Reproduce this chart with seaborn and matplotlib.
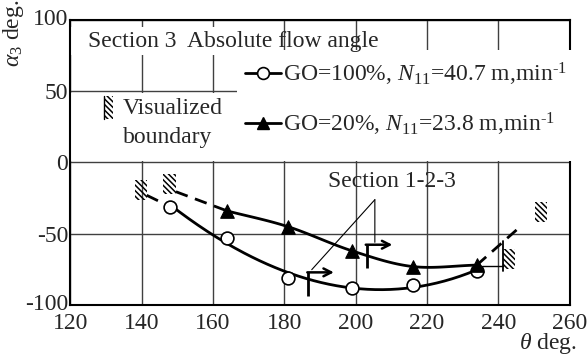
import numpy as np
import pandas as pd
import matplotlib
matplotlib.use("Agg")
import matplotlib.pyplot as plt
import matplotlib.transforms as mtransforms
from matplotlib.lines import Line2D
from matplotlib.patches import Rectangle
import seaborn as sns

# Absolute flow angle at section 3 versus circumferential position
theta_go100 = [148, 164, 181, 199, 216, 234]
alpha_go100 = [-31, -53, -81, -88, -86, -76]
theta_go20 = [164, 181, 199, 216, 234]
alpha_go20 = [-34, -45, -62, -73, -72]

# dashed continuations towards the visualized boundaries
ext_theta_left100 = [141.4, 148]
ext_alpha_left100 = [-23, -31]
ext_theta_left20 = [149.6, 164]
ext_alpha_left20 = [-20.5, -34]
ext_theta_right = [234, 246.2]
ext_alpha_right = [-72, -45]

# visualized boundary marks (centre theta, centre alpha)
boundary_theta = [139.8, 147.8, 243.0, 251.9]
boundary_alpha = [-19.0, -15.3, -67.9, -34.6]

x_ticks = [120, 140, 160, 180, 200, 220, 240, 260]
y_ticks = [-100, -50, 0, 50, 100]

label_go100 = r"GO=100%, $N_{11}$=40.7 m,min$^{\text{-}1}$"
label_go20 = r"GO=20%, $N_{11}$=23.8 m,min$^{\text{-}1}$"

sns.set_style("white")
plt.rcParams["font.family"] = ["Liberation Serif", "DejaVu Serif"]
plt.rcParams["mathtext.fontset"] = "custom"
plt.rcParams["mathtext.rm"] = "Liberation Serif"
plt.rcParams["mathtext.it"] = "Liberation Serif:italic"
plt.rcParams["axes.unicode_minus"] = False
plt.rcParams["hatch.linewidth"] = 1.1

FS = 17
HATCH = "\\" * 6


def smooth_path(x, y, n=30):
    """Catmull-Rom path through the given points."""
    pts = np.column_stack([x, y]).astype(float)
    ext = np.vstack([2 * pts[0] - pts[1], pts, 2 * pts[-1] - pts[-2]])
    t = np.linspace(0, 1, n, endpoint=False)[:, None]
    out = []
    for i in range(1, len(ext) - 2):
        p0, p1, p2, p3 = ext[i - 1], ext[i], ext[i + 1], ext[i + 2]
        seg = 0.5 * ((2 * p1) + (-p0 + p2) * t
                     + (2 * p0 - 5 * p1 + 4 * p2 - p3) * t ** 2
                     + (-p0 + 3 * p1 - 3 * p2 + p3) * t ** 3)
        out.append(seg)
    out.append(pts[-1:])
    return np.vstack(out)


def fitted_path(x, y, deg=3, n=200):
    """Least-squares polynomial trend across the measured range."""
    coef = np.polyfit(x, y, deg)
    xs = np.linspace(min(x), max(x), n)
    return np.column_stack([xs, np.polyval(coef, xs)])


fig = plt.figure(figsize=(5.87, 3.57), dpi=100)
ax = fig.add_axes([70.4 / 587, 1 - 305 / 357, 499.1 / 587, 285 / 357])

ax.set_xlim(120, 260)
ax.set_ylim(-100, 100)
ax.set_xticks(x_ticks)
ax.set_yticks(y_ticks)
ax.set_xticklabels([str(v) for v in x_ticks])
ax.set_yticklabels([str(v) for v in y_ticks])
ax.tick_params(length=0, labelsize=FS)
ax.tick_params(axis="y", pad=1.5)
ax.tick_params(axis="x", pad=6)
# the extreme alpha labels sit a little above their grid lines
lift = mtransforms.ScaledTranslation(0, 3 / 100, fig.dpi_scale_trans)
for lbl in ax.get_yticklabels():
    if lbl.get_text() in ("-100", "100"):
        lbl.set_transform(lbl.get_transform() + lift)
ax.set_axisbelow(True)
ax.grid(True, color="#404040", lw=1.0)
for s in ax.spines.values():
    s.set_color("black")
    s.set_linewidth(1.5)

# blank panels behind the annotations
ax.add_patch(Rectangle((120.3, 75.5), 49.5, 19.8, fc="white", ec="none", zorder=1.2))
ax.add_patch(Rectangle((120.3, 1.0), 46.4, 48.0, fc="white", ec="none", zorder=1.2))
ax.add_patch(Rectangle((166.7, 1.0), 97.0, 78.0, fc="white", ec="none",
                       zorder=2.6, clip_on=False))

# smooth curves through the measured points
c100 = fitted_path(theta_go100, alpha_go100)
c20 = smooth_path(theta_go20, alpha_go20)
sns.lineplot(x=c100[:, 0], y=c100[:, 1], sort=False, estimator=None,
             color="black", lw=2, ax=ax, zorder=3)
sns.lineplot(x=c20[:, 0], y=c20[:, 1], sort=False, estimator=None,
             color="black", lw=2, ax=ax, zorder=3)

dash = (0, (4.5, 2.8))
for xs, ys in [(ext_theta_left100, ext_alpha_left100),
               (ext_theta_left20, ext_alpha_left20),
               (ext_theta_right, ext_alpha_right)]:
    ax.plot(xs, ys, color="black", lw=2, ls=dash, zorder=3)

# boundary marks
bw, bh = 3.4, 14.0
for bt, ba in zip(boundary_theta, boundary_alpha):
    ax.add_patch(Rectangle((bt - bw / 2, ba - bh / 2), bw, bh, fc="none",
                           ec="black", lw=0, hatch=HATCH, zorder=3))
# edge of the lower-right boundary and its leader
edge_t = boundary_theta[2] - bw / 2
ax.plot([edge_t, edge_t], [boundary_alpha[2] + 12.5, boundary_alpha[2] - 8.5],
        color="black", lw=1.3, zorder=3)
ax.plot([theta_go20[-1] + 1.4, edge_t], [alpha_go20[-1] - 0.4] * 2,
        color="black", lw=1.0, zorder=3)

# measured points
df100 = pd.DataFrame({"theta": theta_go100, "alpha": alpha_go100})
df20 = pd.DataFrame({"theta": theta_go20, "alpha": alpha_go20})
sns.scatterplot(data=df100, x="theta", y="alpha", marker="o", s=85,
                facecolor="white", edgecolor="black", linewidth=1.2,
                ax=ax, zorder=4)
sns.scatterplot(data=df20, x="theta", y="alpha", marker="^", s=95,
                color="black", edgecolor="black", linewidth=0.8,
                ax=ax, zorder=4)
ax.set_xlabel("")
ax.set_ylabel("")

# section markers
for (tx, ty_top, ty_bot, tip) in [(186.7, -77.1, -94.0, 193.9),
                                  (203.1, -57.7, -74.0, 210.3)]:
    ax.plot([tx, tx], [ty_bot, ty_top], color="black", lw=2, zorder=3,
            solid_capstyle="butt")
    ax.annotate("", xy=(tip, ty_top), xytext=(tx - 0.25, ty_top),
                arrowprops=dict(arrowstyle="->,head_length=0.55,head_width=0.28",
                                lw=1.8, color="black", shrinkA=0, shrinkB=0),
                zorder=3)
ax.text(210.1, -13.3, "Section 1-2-3", fontsize=FS, ha="center", va="center",
        zorder=5)
for end in [(187.7, -75.2), (205.4, -56.0)]:
    ax.annotate("", xy=end, xytext=(205.4, -26.1),
                arrowprops=dict(arrowstyle="-", lw=0.8, color="black",
                                shrinkA=0, shrinkB=0), zorder=3)

# texts in the upper panel
ax.text(125.0, 84.6, "Section 3  Absolute flow angle", fontsize=FS,
        ha="left", va="center", zorder=5)
ax.add_patch(Rectangle((129.3, 30.8), 2.6, 15.6, fc="none", ec="black",
                       lw=0, hatch=HATCH, zorder=5))
ax.plot([129.3, 129.3], [30.8, 46.4], color="black", lw=1.0, zorder=5)
ax.text(134.8, 37.8, "Visualized", fontsize=FS, ha="left", va="center", zorder=5)
ax.text(134.8, 17.5, "boundary", fontsize=FS, ha="left", va="center", zorder=5)

handles = [
    Line2D([], [], color="black", lw=2, marker="o", mfc="white", mec="black",
           ms=8.5, mew=1.2),
    Line2D([], [], color="black", lw=2, marker="^", mfc="black", mec="black",
           ms=9),
]
leg = ax.legend(handles, [label_go100, label_go20], loc="center left",
                bbox_to_anchor=(0.350, 0.7225), frameon=False, fontsize=FS,
                handlelength=1.5, handletextpad=0.1, labelspacing=0.95,
                borderpad=0, borderaxespad=0)
leg.set_zorder(6)

fig.text(13 / 587, 1 - 33 / 357, r"$\alpha_3$ deg.", rotation=90, fontsize=FS,
         ha="center", va="center")
fig.text(577 / 587, 1 - 349.5 / 357, r"$\theta$ deg.", fontsize=FS,
         ha="right", va="baseline")

fig.savefig("out.png", dpi=100)
